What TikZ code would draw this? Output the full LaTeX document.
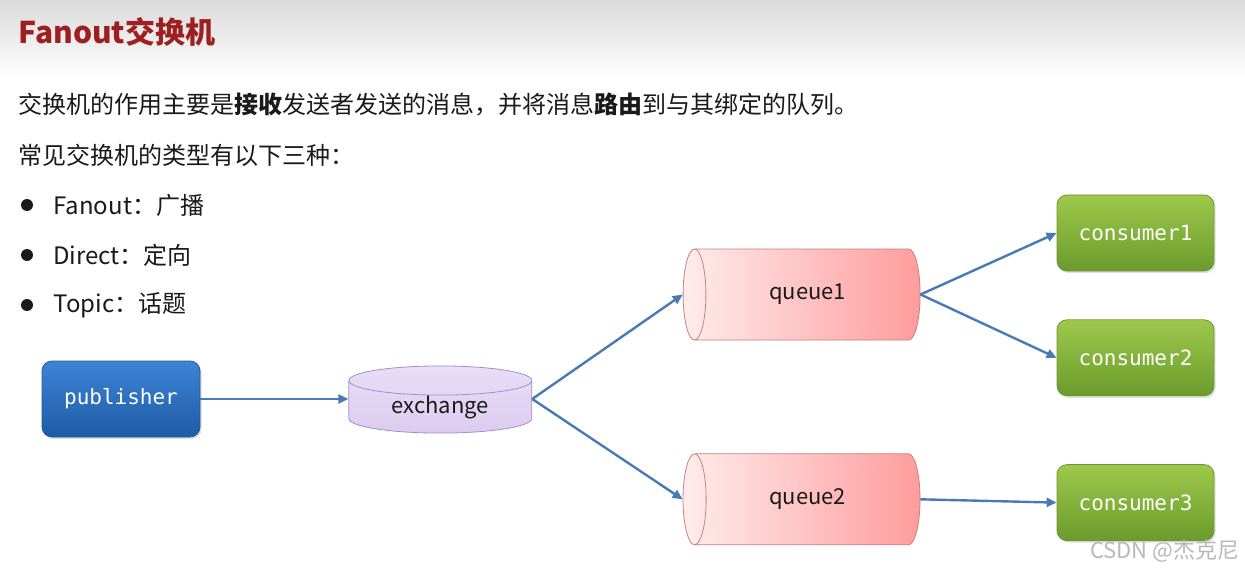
\documentclass[tikz,border=0pt]{standalone}
\usepackage{fontspec}
\setmainfont{Noto Sans CJK SC}
\newfontfamily\monofont{DejaVu Sans Mono}
\usepackage{tikz}
\usetikzlibrary{arrows.meta,positioning,shapes.geometric,shadows}
\definecolor{slidered}{RGB}{158,31,31}
\definecolor{slidetext}{RGB}{26,26,26}
\definecolor{linkblue}{RGB}{74,122,181}
\definecolor{pubtop}{RGB}{62,132,214}
\definecolor{pubbottom}{RGB}{30,91,165}
\definecolor{pubborder}{RGB}{40,90,150}
\definecolor{exchfill}{RGB}{220,204,240}
\definecolor{exchtop}{RGB}{232,222,247}
\definecolor{exchborder}{RGB}{165,142,200}
\definecolor{queueleft}{RGB}{255,236,236}
\definecolor{queueright}{RGB}{255,156,156}
\definecolor{queueborder}{RGB}{200,128,128}
\definecolor{constop}{RGB}{157,200,75}
\definecolor{consbottom}{RGB}{106,155,44}
\definecolor{consborder}{RGB}{110,150,50}

\begin{document}
\begin{tikzpicture}[
  x=0.5pt,y=-0.5pt,
  every node/.style={inner sep=0pt},
  titletext/.style={font=\fontsize{15}{18}\selectfont\bfseries,text=slidered,anchor=west},
  bodytext/.style={font=\fontsize{12}{14}\selectfont,text=slidetext,anchor=west},
  pubbox/.style={draw=pubborder,rounded corners=5pt,top color=pubtop,bottom color=pubbottom,
    minimum width=79pt,minimum height=38pt,text=white,font=\monofont\fontsize{10.5}{12}\selectfont,
    drop shadow={shadow xshift=0.8pt,shadow yshift=-1pt,opacity=0.25}},
  consumerbox/.style={pubbox,draw=consborder,top color=constop,bottom color=consbottom,
    minimum width=78.5pt},
  exchbox/.style={cylinder,shape border rotate=90,shape aspect=0.3,draw=exchborder,
    top color=exchtop,bottom color=exchfill,minimum width=91.5pt,minimum height=32.5pt,
    text=slidetext,font=\fontsize{11}{13}\selectfont},
  queuebox/.style={cylinder,shape border rotate=180,shape aspect=1.1,draw=queueborder,
    left color=queueleft,right color=queueright,minimum width=45.5pt,minimum height=118.5pt,
    text=slidetext,font=\fontsize{11}{13}\selectfont},
  link/.style={-{Triangle[length=5pt,width=4.5pt]},line width=1.2pt,draw=linkblue}
]
\useasboundingbox (0,0) rectangle (1245,572);
\fill[white] (0,0) rectangle (1245,572);
\shade[top color=gray!28,bottom color=white] (0,0) rectangle (1245,80);

% slide text
\node[titletext] (title) at (18,32) {Fanout交换机};
\node[bodytext] (intro) at (18,105) {交换机的作用主要是\textbf{接收}发送者发送的消息，并将消息\textbf{路由}到与其绑定的队列。};
\node[bodytext] (kinds) at (18,155) {常见交换机的类型有以下三种：};
\foreach \kind [count=\i] in {Fanout：广播,Direct：定向,Topic：话题}{
  \fill[slidetext] (27,155+50*\i) circle (6);
  \node[bodytext] (kind\i) at (53,155+50*\i) {\kind};
}

% diagram
\node[pubbox] (publisher) at (121,399) {publisher};
\node[exchbox,right=74pt of publisher,yshift=-4pt] (exchange) {exchange};
\node[queuebox] (queue1) at (807.5,294.5) {queue1};
\node[queuebox,below=56.5pt of queue1] (queue2) {queue2};
\node[consumerbox] (consumer1) at (1135.5,233) {consumer1};
\node[consumerbox,below=24pt of consumer1] (consumer2) {consumer2};
\node[consumerbox,below=34pt of consumer2] (consumer3) {consumer3};
\coordinate (exchin) at (exchange.west |- publisher.east);
\coordinate (exchout) at (exchange.east |- publisher.east);

\draw[link] (publisher.east) -- (exchin);
\draw[link] (exchout) -- (queue1.west);
\draw[link] (exchout) -- (queue2.west);
\draw[link] (queue1.east) -- (consumer1.west);
\draw[link] (queue1.east) -- (consumer2.west);
\draw[link] (queue2.east) -- (consumer3.west);

\node[anchor=east,text=gray!55,font=\fontsize{11}{13}\selectfont] (csdn) at (1240,551) {CSDN @杰克尼};
\end{tikzpicture}
\end{document}
